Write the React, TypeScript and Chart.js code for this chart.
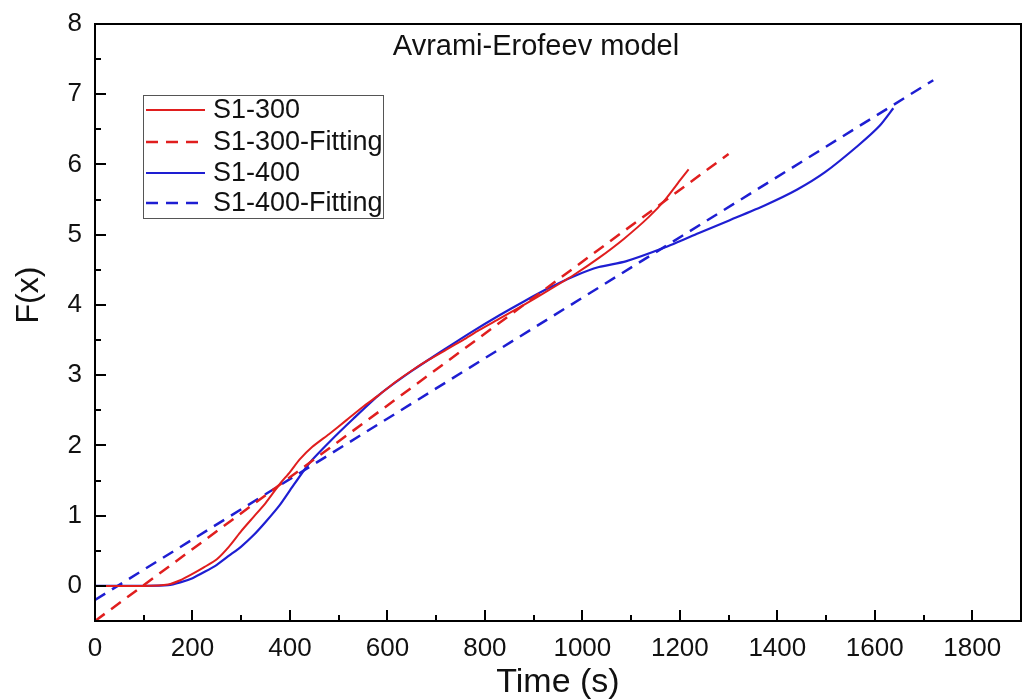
import React, { useEffect, useRef } from "react";
import { Chart, registerables } from "chart.js";

Chart.register(...registerables);

const timeS1300 = [0, 100, 150, 175, 200, 225, 250, 275, 300, 325, 350, 379, 400, 420, 446, 480, 516, 550, 583, 620, 651, 685, 720, 755, 788, 829, 880, 931, 983, 1034, 1085, 1136, 1170, 1201, 1218];
const fS1300 = [0, 0, 0.02, 0.08, 0.17, 0.27, 0.38, 0.56, 0.78, 0.98, 1.18, 1.45, 1.62, 1.8, 1.98, 2.16, 2.36, 2.55, 2.72, 2.92, 3.07, 3.22, 3.36, 3.5, 3.64, 3.8, 4.0, 4.21, 4.43, 4.67, 4.94, 5.25, 5.5, 5.78, 5.93];

const timeS1400 = [0, 100, 150, 175, 200, 225, 250, 275, 300, 325, 350, 379, 400, 440, 481, 530, 583, 650, 720, 774, 829, 880, 931, 983, 1034, 1089, 1170, 1238, 1300, 1375, 1440, 1498, 1566, 1610, 1638];
const fS1400 = [0, 0, 0.01, 0.05, 0.11, 0.2, 0.3, 0.43, 0.56, 0.72, 0.91, 1.15, 1.36, 1.75, 2.05, 2.38, 2.72, 3.06, 3.38, 3.62, 3.85, 4.05, 4.24, 4.41, 4.54, 4.62, 4.82, 5.02, 5.2, 5.42, 5.64, 5.89, 6.27, 6.55, 6.8];

const timeFit300 = [0, 1300];
const fFit300 = [-0.5, 6.15];
const timeFit400 = [0, 1720];
const fFit400 = [-0.2, 7.2];

const seriesLabels = ["S1-300", "S1-300-Fitting", "S1-400", "S1-400-Fitting"];
const chartTitle = "Avrami-Erofeev model";
const xTitle = "Time (s)";
const yTitle = "F(x)";

const RED = "#e01e1e";
const BLUE = "#1e1ed2";
const FONT = "'Liberation Sans', Arial, sans-serif";
const DASH = [12, 8];

const toPoints = (xs: number[], ys: number[]) => xs.map((x, i) => ({ x, y: ys[i] }));

const decorPlugin = {
  id: "decor",
  afterDraw(chart: any) {
    const ctx = chart.ctx;
    const { left, right, top, bottom } = chart.chartArea;
    const xs = chart.scales.x;
    const ys = chart.scales.y;
    ctx.save();
    ctx.strokeStyle = "#000";
    ctx.lineWidth = 2;
    ctx.strokeRect(left, top, right - left, bottom - top);
    for (let v = 100; v < 1900; v += 100) {
      const px = Math.round(xs.getPixelForValue(v));
      const len = v % 200 === 0 ? 11 : 6;
      ctx.beginPath();
      ctx.moveTo(px, bottom);
      ctx.lineTo(px, bottom - len);
      ctx.stroke();
    }
    for (let v = 0; v < 8; v += 0.5) {
      const py = Math.round(ys.getPixelForValue(v));
      const len = Number.isInteger(v) ? 11 : 6;
      ctx.beginPath();
      ctx.moveTo(left, py);
      ctx.lineTo(left + len, py);
      ctx.stroke();
    }
    ctx.fillStyle = "#111";
    ctx.font = `29px ${FONT}`;
    ctx.textAlign = "center";
    ctx.textBaseline = "middle";
    ctx.fillText(chartTitle, 536, 47);
    ctx.font = `34px ${FONT}`;
    ctx.fillText(xTitle, 558, 683);
    ctx.save();
    ctx.translate(29, 295);
    ctx.rotate(-Math.PI / 2);
    ctx.font = `32px ${FONT}`;
    ctx.fillText(yTitle, 0, 0);
    ctx.restore();
    const lx = 143, ly = 95, lw = 240, lh = 123;
    ctx.fillStyle = "#fff";
    ctx.fillRect(lx, ly, lw, lh);
    ctx.strokeStyle = "#555";
    ctx.lineWidth = 1;
    ctx.strokeRect(lx + 0.5, ly + 0.5, lw, lh);
    const rows = [110, 142, 173, 203];
    chart.data.datasets.forEach((ds: any, i: number) => {
      const y = rows[i];
      ctx.beginPath();
      ctx.strokeStyle = ds.borderColor;
      ctx.lineWidth = ds.borderWidth;
      ctx.setLineDash(ds.borderDash || []);
      ctx.moveTo(146, y);
      ctx.lineTo(205, y);
      ctx.stroke();
      ctx.setLineDash([]);
      ctx.fillStyle = "#111";
      ctx.font = `27px ${FONT}`;
      ctx.textAlign = "left";
      ctx.textBaseline = "middle";
      ctx.fillText(ds.label, 213, y + 1);
    });
    ctx.restore();
  },
};

export default function App() {
  const canvasRef = useRef<HTMLCanvasElement | null>(null);
  useEffect(() => {
    if (!canvasRef.current) return;
    const chart = new Chart(canvasRef.current, {
      type: "scatter",
      data: {
        datasets: [
          { label: seriesLabels[0], data: toPoints(timeS1300, fS1300), borderColor: RED, backgroundColor: RED, borderWidth: 2, showLine: true, pointRadius: 0, tension: 0.2 },
          { label: seriesLabels[1], data: toPoints(timeFit300, fFit300), borderColor: RED, backgroundColor: RED, borderWidth: 2.5, borderDash: DASH, showLine: true, pointRadius: 0 },
          { label: seriesLabels[2], data: toPoints(timeS1400, fS1400), borderColor: BLUE, backgroundColor: BLUE, borderWidth: 2.2, showLine: true, pointRadius: 0, tension: 0.2 },
          { label: seriesLabels[3], data: toPoints(timeFit400, fFit400), borderColor: BLUE, backgroundColor: BLUE, borderWidth: 2.5, borderDash: DASH, showLine: true, pointRadius: 0 },
        ],
      } as any,
      options: {
        responsive: false,
        animation: false,
        devicePixelRatio: 1,
        layout: { padding: { left: 0, top: 24, right: 2, bottom: 0 } },
        plugins: { legend: { display: false }, tooltip: { enabled: false }, title: { display: false } },
        scales: {
          x: {
            type: "linear",
            min: 0,
            max: 1900,
            grid: { display: false, drawTicks: false },
            border: { display: false },
            ticks: {
              stepSize: 100,
              autoSkip: false,
              maxRotation: 0,
              padding: 12,
              color: "#111",
              font: { family: FONT, size: 26 },
              callback: (v: any) => (Number(v) % 200 === 0 && Number(v) <= 1800 ? String(v) : ""),
            },
            afterFit: (s: any) => { s.height = 79; s.paddingLeft = 0; s.paddingRight = 0; },
          },
          y: {
            type: "linear",
            min: -0.5,
            max: 8,
            grid: { display: false, drawTicks: false },
            border: { display: false },
            ticks: {
              stepSize: 1,
              autoSkip: false,
              padding: 13,
              color: "#111",
              font: { family: FONT, size: 26 },
              callback: (v: any) => (Number.isInteger(Number(v)) ? String(v) : ""),
            },
            afterFit: (s: any) => { s.width = 95; s.paddingTop = 0; s.paddingBottom = 0; },
          },
        },
      } as any,
      plugins: [decorPlugin],
    });
    return () => chart.destroy();
  }, []);
  return (
    <div style={{ position: "absolute", left: 0, top: 0, width: 1023, height: 700, background: "#fff" }}>
      <canvas ref={canvasRef} width={1023} height={700} style={{ display: "block" }} />
    </div>
  );
}
